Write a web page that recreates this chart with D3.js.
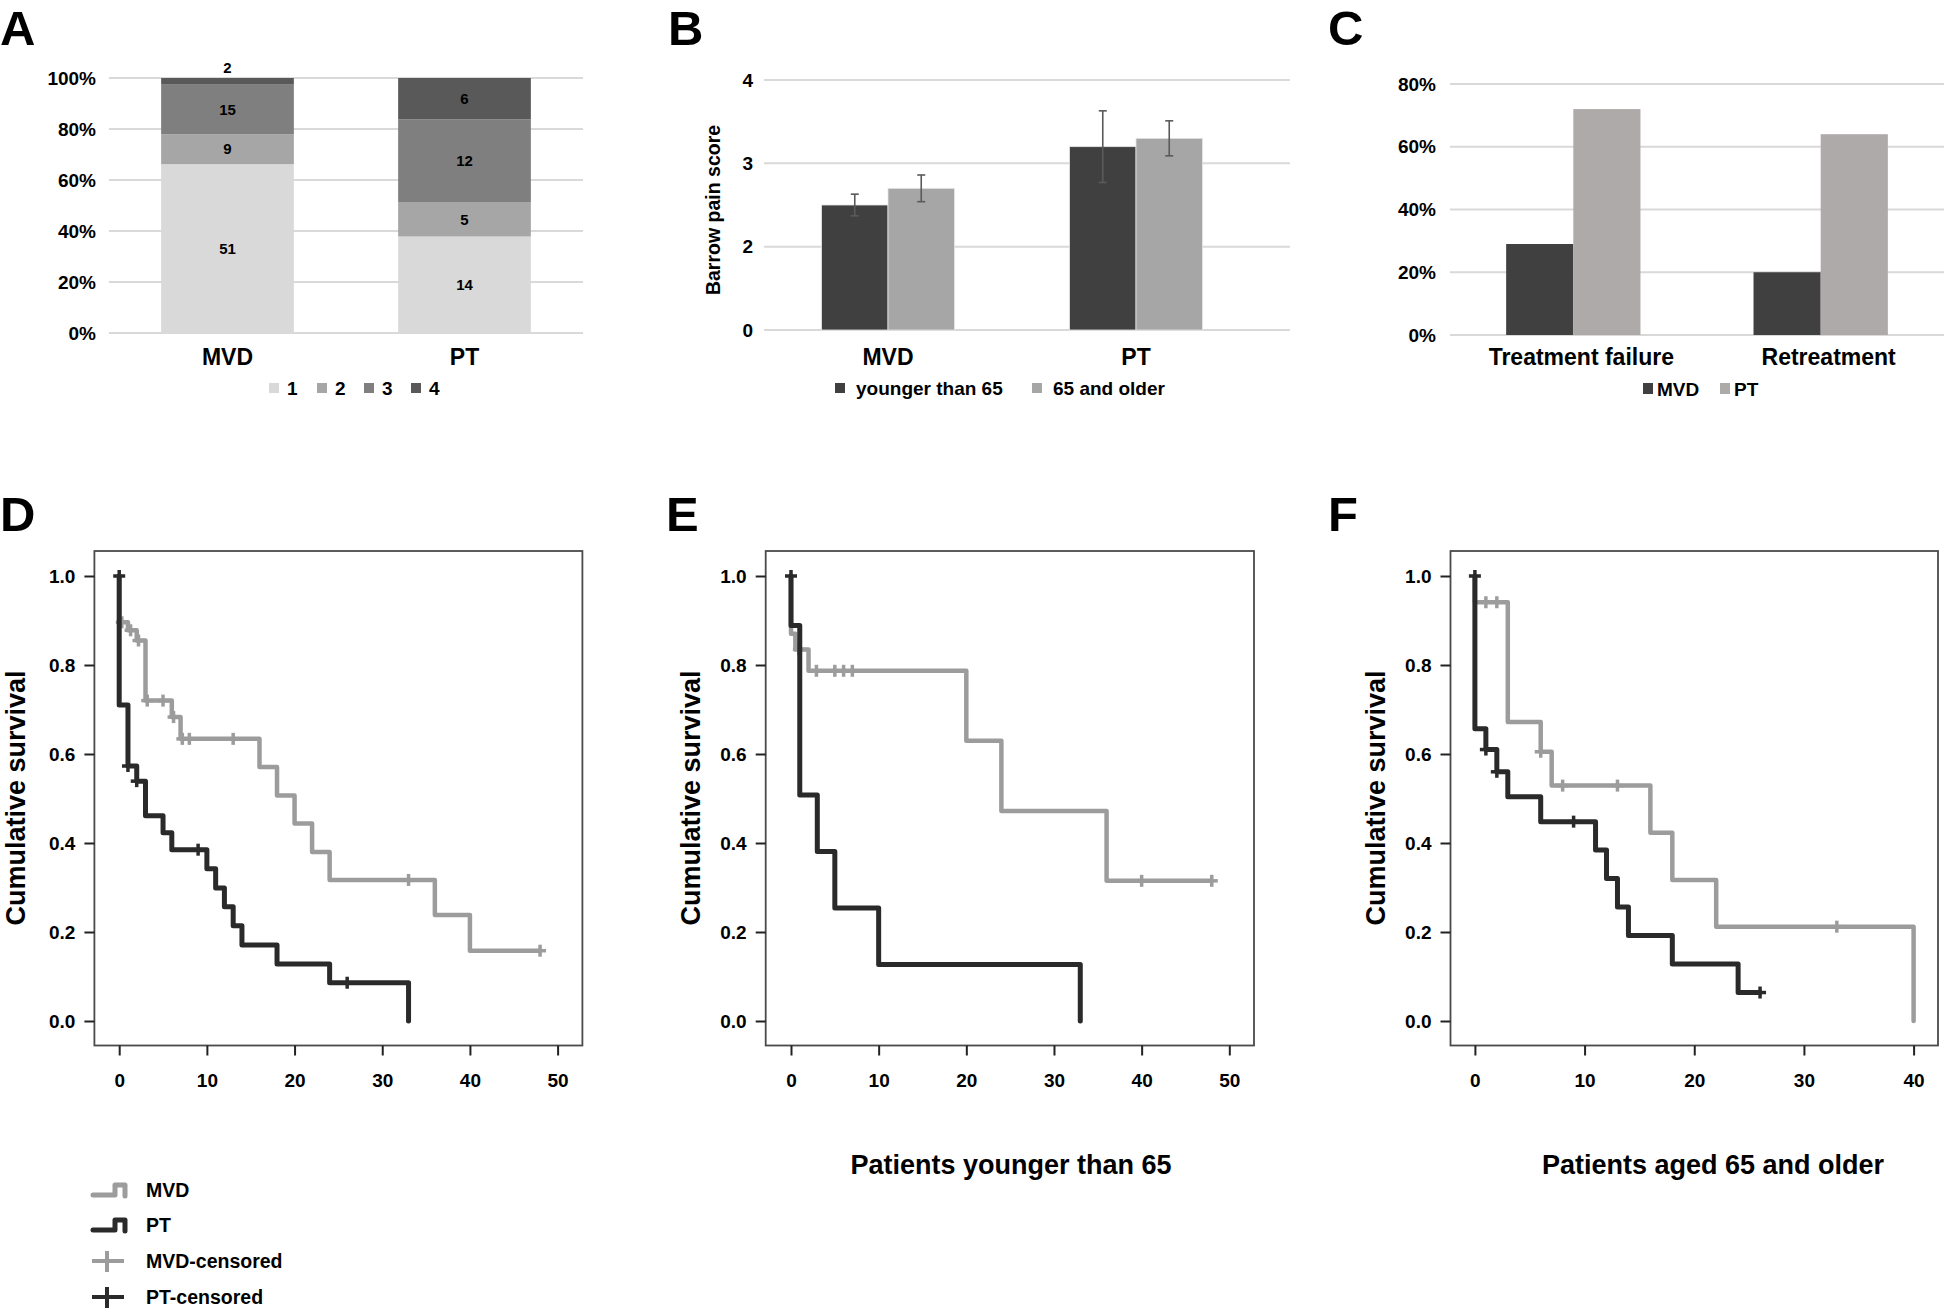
<!DOCTYPE html>
<html><head><meta charset="utf-8">
<script src="https://cdn.jsdelivr.net/npm/d3@7"></script>
<style>
body{margin:0;background:#fff}
svg{display:block}
text{font-family:"Liberation Sans",Arial,Helvetica,sans-serif;font-weight:bold;fill:#000}
</style>
</head><body>
<svg id="c" width="1946" height="1310"></svg>
<script>
// ---------------- DATA ----------------
// Panel A: Barrow pain score grade distribution (counts)
const gradeCategories = ["MVD", "PT"];
const gradeKeys = ["1", "2", "3", "4"];
const gradeCountsMVD = [51, 9, 15, 2];
const gradeCountsPT = [14, 5, 12, 6];
const percentTicksA = [0, 0.2, 0.4, 0.6, 0.8, 1];

// Panel B: mean Barrow pain score by age
const painGroups = ["MVD", "PT"];
const ageSeries = ["younger than 65", "65 and older"];
const painMeanMVD = [2.5, 2.7];
const painMeanPT = [3.2, 3.3];
const painErrMVD = [0.13, 0.16];
const painErrPT = [0.43, 0.21];
const painTickValues = [1, 2, 3, 4];
const painTickLabels = ["0", "2", "3", "4"];

// Panel C: treatment failure / retreatment rates
const outcomeCategories = ["Treatment failure", "Retreatment"];
const outcomeSeries = ["MVD", "PT"];
const outcomeMVD = [0.29, 0.20];
const outcomePT = [0.72, 0.64];
const percentTicksC = [0, 0.2, 0.4, 0.6, 0.8];

// Kaplan-Meier curves: [time, survival] after each step
const kmTicksY = [0, 0.2, 0.4, 0.6, 0.8, 1.0];
const kmD_MVD = [[0,1],[0,0.896],[1,0.878],[2,0.855],[3,0.72],[6,0.683],[7,0.634],[16,0.571],[18,0.507],[20,0.444],[22,0.380],[24,0.317],[36,0.238],[40,0.158],[48,0.158]];
const kmD_MVD_cens = [[0.3,0.896],[1.3,0.878],[2.2,0.855],[3.2,0.72],[5,0.72],[6.2,0.683],[7.2,0.634],[8,0.634],[13,0.634],[33,0.317],[48,0.158]];
const kmD_PT = [[0,1],[0,0.71],[1,0.573],[2,0.539],[3,0.461],[5,0.423],[6,0.385],[10,0.342],[11,0.299],[12,0.257],[13,0.214],[14,0.171],[18,0.128],[24,0.086],[33,0.086],[33,0]];
const kmD_PT_cens = [[0,1],[1,0.573],[2,0.539],[9,0.385],[26,0.086]];

const kmE_MVD = [[0,1],[0,0.87],[0.5,0.835],[2,0.787],[20,0.63],[24,0.472],[36,0.315],[48,0.315]];
const kmE_MVD_cens = [[0.9,0.835],[2.9,0.787],[5,0.787],[6,0.787],[7,0.787],[40,0.315],[48,0.315]];
const kmE_PT = [[0,1],[0,0.889],[1,0.508],[3,0.381],[5,0.254],[10,0.127],[33,0.127],[33,0]];
const kmE_PT_cens = [[0,1]];

const kmF_MVD = [[0,1],[0,0.941],[3,0.672],[6,0.605],[7,0.529],[16,0.423],[18,0.317],[22,0.212],[40,0.212],[40,0]];
const kmF_MVD_cens = [[1,0.941],[2,0.941],[6,0.605],[8,0.529],[13,0.529],[33,0.212]];
const kmF_PT = [[0,1],[0,0.657],[1,0.610],[2,0.560],[3,0.504],[6,0.448],[11,0.384],[12,0.320],[13,0.256],[14,0.192],[18,0.128],[24,0.064],[26,0.064]];
const kmF_PT_cens = [[0,1],[1,0.610],[2,0.560],[9,0.448],[26,0.064]];

const kmLegend = ["MVD", "PT", "MVD-censored", "PT-censored"];

// ---------------- DRAW ----------------
const svg = d3.select("#c");
svg.append("rect").attr("width",1946).attr("height",1310).attr("fill","#fff");

// panel letters
[["A",0,45],["B",668,45],["C",1328,45],["D",0,531],["E",666,531],["F",1328,531]].forEach(([t,x,y])=>{
  svg.append("text").attr("x",x).attr("y",y).attr("font-size",49).text(t);
});

const gridColor = "#d9d9d9";

// ===== Panel A =====
{
  const g = svg.append("g");
  const x = d3.scaleBand().domain(gradeCategories).range([109,583]).paddingInner(0.44).paddingOuter(0.22);
  const y = d3.scaleLinear().domain([0,1]).range([333,78]);
  const colors = d3.scaleOrdinal().domain(gradeKeys).range(["#d9d9d9","#a6a6a6","#7f7f7f","#595959"]);
  percentTicksA.forEach(t=>{
    g.append("line").attr("x1",109).attr("x2",583).attr("y1",y(t)).attr("y2",y(t)).attr("stroke",gridColor).attr("stroke-width",2);
    g.append("text").attr("x",96).attr("y",y(t)).attr("dy","0.35em").attr("text-anchor","end").attr("font-size",19).text(d3.format(".0%")(t));
  });
  const rows = [gradeCountsMVD, gradeCountsPT].map((c,i)=>{
    const tot = d3.sum(c); const r = {cat: gradeCategories[i]};
    gradeKeys.forEach((k,j)=>{ r[k] = c[j]/tot; r["n"+k] = c[j]; });
    return r;
  });
  const stack = d3.stack().keys(gradeKeys)(rows);
  stack.forEach(layer=>{
    layer.forEach(d=>{
      const top = y(d[1]), bot = y(d[0]);
      g.append("rect").attr("x",x(d.data.cat)).attr("width",x.bandwidth()).attr("y",top).attr("height",bot-top).attr("fill",colors(layer.key));
      const ly = (bot-top) < 14 ? top - 10 : (top+bot)/2;
      g.append("text").attr("x",x(d.data.cat)+x.bandwidth()/2).attr("y",ly).attr("dy","0.35em").attr("text-anchor","middle").attr("font-size",15).text(d.data["n"+layer.key]);
    });
  });
  gradeCategories.forEach(c=>{
    g.append("text").attr("x",x(c)+x.bandwidth()/2).attr("y",357).attr("dy","0.35em").attr("text-anchor","middle").attr("font-size",23).text(c);
  });
  const lx = [269,317,364,411];
  gradeKeys.forEach((k,i)=>{
    g.append("rect").attr("x",lx[i]).attr("y",383).attr("width",10).attr("height",10).attr("fill",colors(k));
    g.append("text").attr("x",lx[i]+18).attr("y",388).attr("dy","0.35em").attr("font-size",19).text(k);
  });
}

// ===== Panel B =====
{
  const g = svg.append("g");
  const x0 = d3.scaleBand().domain(painGroups).range([764,1260]).paddingInner(0.464).paddingOuter(0.232);
  const x1 = d3.scaleBand().domain(ageSeries).range([0,x0.bandwidth()]);
  const y = d3.scaleLinear().domain([1,4]).range([330,80]);
  const colors = d3.scaleOrdinal().domain(ageSeries).range(["#404040","#a6a6a6"]);
  painTickValues.forEach((t,i)=>{
    g.append("line").attr("x1",764).attr("x2",1290).attr("y1",y(t)).attr("y2",y(t)).attr("stroke",gridColor).attr("stroke-width",2);
    g.append("text").attr("x",753).attr("y",y(t)).attr("dy","0.35em").attr("text-anchor","end").attr("font-size",19).text(painTickLabels[i]);
  });
  const means = [painMeanMVD, painMeanPT], errs = [painErrMVD, painErrPT];
  painGroups.forEach((grp,gi)=>{
    ageSeries.forEach((s,si)=>{
      const v = means[gi][si], e = errs[gi][si];
      const bx = x0(grp)+x1(s);
      g.append("rect").attr("x",bx).attr("width",x1.bandwidth()).attr("y",y(v)).attr("height",y(1)-y(v)).attr("fill",colors(s)).attr("stroke","#e6e6e6").attr("stroke-width",0.8);
      const cx = bx + x1.bandwidth()/2;
      g.append("line").attr("x1",cx).attr("x2",cx).attr("y1",y(v+e)).attr("y2",y(v-e)).attr("stroke","#5a5a5a").attr("stroke-width",1.6);
      [v+e, v-e].forEach(t=>g.append("line").attr("x1",cx-4).attr("x2",cx+4).attr("y1",y(t)).attr("y2",y(t)).attr("stroke","#5a5a5a").attr("stroke-width",1.6));
    });
    g.append("text").attr("x",x0(grp)+x0.bandwidth()/2).attr("y",357).attr("dy","0.35em").attr("text-anchor","middle").attr("font-size",23).text(grp);
  });
  g.append("text").attr("transform","translate(713,210) rotate(-90)").attr("text-anchor","middle").attr("dy","0.35em").attr("font-size",19.5).text("Barrow pain score");
  const lx = [835,1032];
  ageSeries.forEach((s,i)=>{
    g.append("rect").attr("x",lx[i]).attr("y",383).attr("width",10).attr("height",10).attr("fill",colors(s));
    g.append("text").attr("x",lx[i]+21).attr("y",388).attr("dy","0.35em").attr("font-size",19).text(s);
  });
}

// ===== Panel C =====
{
  const g = svg.append("g");
  const x0 = d3.scaleBand().domain(outcomeCategories).range([1450,1944]).paddingInner(0.457).paddingOuter(0.227);
  const x1 = d3.scaleBand().domain(outcomeSeries).range([0,x0.bandwidth()]);
  const y = d3.scaleLinear().domain([0,0.8]).range([335,84]);
  const colors = d3.scaleOrdinal().domain(outcomeSeries).range(["#404040","#afaaaa"]);
  percentTicksC.forEach(t=>{
    g.append("line").attr("x1",1450).attr("x2",1944).attr("y1",y(t)).attr("y2",y(t)).attr("stroke",gridColor).attr("stroke-width",2);
    g.append("text").attr("x",1436).attr("y",y(t)).attr("dy","0.35em").attr("text-anchor","end").attr("font-size",19).text(d3.format(".0%")(t));
  });
  const vals = {MVD: outcomeMVD, PT: outcomePT};
  outcomeCategories.forEach((c,ci)=>{
    outcomeSeries.forEach(s=>{
      const v = vals[s][ci];
      g.append("rect").attr("x",x0(c)+x1(s)).attr("width",x1.bandwidth()).attr("y",y(v)).attr("height",y(0)-y(v)).attr("fill",colors(s));
    });
    g.append("text").attr("x",x0(c)+x0.bandwidth()/2+8).attr("y",357).attr("dy","0.35em").attr("text-anchor","middle").attr("font-size",23).text(c);
  });
  const lx = [1643,1720];
  outcomeSeries.forEach((s,i)=>{
    g.append("rect").attr("x",lx[i]).attr("y",383).attr("width",10).attr("height",11).attr("fill",colors(s));
    g.append("text").attr("x",lx[i]+14).attr("y",389).attr("dy","0.35em").attr("font-size",19).text(s);
  });
}

// ===== KM panels =====
const greyLine = "#9c9c9c", blackLine = "#2a2a2a";
function kmPanel(cfg){
  const g = svg.append("g");
  const x = d3.scaleLinear().domain(cfg.xDomain).range(cfg.xRange);
  const y = d3.scaleLinear().domain([0,1]).range([1021,576]);
  const top = 551, bot = 1045.5;
  g.append("rect").attr("x",cfg.boxL).attr("y",top).attr("width",cfg.boxR-cfg.boxL).attr("height",bot-top).attr("fill","none").attr("stroke","#4a4a4a").attr("stroke-width",1.8);
  const ax = g.append("g").attr("transform",`translate(0,${bot})`).call(d3.axisBottom(x).tickValues(cfg.xTicks).tickSize(10).tickFormat(d3.format("d")));
  ax.select(".domain").remove();
  ax.selectAll(".tick line").attr("stroke","#222").attr("stroke-width",2);
  ax.selectAll("text").attr("y",34.5).attr("dy","0.35em").attr("font-size",19).attr("font-family","Liberation Sans, Arial, sans-serif").attr("font-weight","bold").attr("fill","#000");
  const ay = g.append("g").attr("transform",`translate(${cfg.boxL},0)`).call(d3.axisLeft(y).tickValues(kmTicksY).tickSize(10).tickPadding(9).tickFormat(d3.format(".1f")));
  ay.select(".domain").remove();
  ay.selectAll(".tick line").attr("stroke","#222").attr("stroke-width",2);
  ay.selectAll("text").attr("font-size",19).attr("font-family","Liberation Sans, Arial, sans-serif").attr("font-weight","bold").attr("fill","#000");
  g.append("text").attr("transform",`translate(${cfg.yTitleX},798) rotate(-90)`).attr("text-anchor","middle").attr("dy","0.35em").attr("font-size",27).text("Cumulative survival");
  if (cfg.title) g.append("text").attr("x",cfg.titleX).attr("y",1165).attr("dy","0.35em").attr("text-anchor","middle").attr("font-size",27).text(cfg.title);
  const line = d3.line().x(d=>x(d[0])).y(d=>y(d[1])).curve(d3.curveStepAfter);
  const drawCurve = (data, cens, color, w) => {
    g.append("path").attr("d",line(data)).attr("fill","none").attr("stroke",color).attr("stroke-width",w).attr("stroke-linejoin","round").attr("stroke-linecap","round");
    cens.forEach(c=>{
      const cx = x(c[0]), cy = y(c[1]);
      g.append("line").attr("x1",cx).attr("x2",cx).attr("y1",cy-6).attr("y2",cy+6).attr("stroke",color).attr("stroke-width",3.5);
      g.append("line").attr("x1",cx-6).attr("x2",cx+6).attr("y1",cy).attr("y2",cy).attr("stroke",color).attr("stroke-width",3.5);
    });
  };
  drawCurve(cfg.mvd, cfg.mvdC, greyLine, 4.5);
  drawCurve(cfg.pt, cfg.ptC, blackLine, 5);
}
kmPanel({boxL:94.4, boxR:582.4, xDomain:[0,50], xRange:[119.2,557.6], xTicks:[0,10,20,30,40,50], yTitleX:16, mvd:kmD_MVD, mvdC:kmD_MVD_cens, pt:kmD_PT, ptC:kmD_PT_cens});
kmPanel({boxL:765.7, boxR:1254, xDomain:[0,50], xRange:[791,1229.3], xTicks:[0,10,20,30,40,50], yTitleX:691, title:"Patients younger than 65", titleX:1011, mvd:kmE_MVD, mvdC:kmE_MVD_cens, pt:kmE_PT, ptC:kmE_PT_cens});
kmPanel({boxL:1450.5, boxR:1938, xDomain:[0,40], xRange:[1474.9,1913.6], xTicks:[0,10,20,30,40], yTitleX:1376, title:"Patients aged 65 and older", titleX:1713, mvd:kmF_MVD, mvdC:kmF_MVD_cens, pt:kmF_PT, ptC:kmF_PT_cens});

// KM legend
{
  const g = svg.append("g");
  const ys = [1190, 1225, 1261, 1297];
  const cols = [greyLine, blackLine, greyLine, blackLine];
  kmLegend.forEach((lab,i)=>{
    const yc = ys[i];
    if (i < 2) {
      g.append("path").attr("d",`M93,${yc+5} H115 V${yc-5} H125 V${yc+6}`).attr("fill","none").attr("stroke",cols[i]).attr("stroke-width",5).attr("stroke-linejoin","round").attr("stroke-linecap","round");
    } else {
      g.append("line").attr("x1",92).attr("x2",124).attr("y1",yc).attr("y2",yc).attr("stroke",cols[i]).attr("stroke-width",4);
      g.append("line").attr("x1",107).attr("x2",107).attr("y1",yc-10).attr("y2",yc+11).attr("stroke",cols[i]).attr("stroke-width",4);
    }
    g.append("text").attr("x",146).attr("y",yc).attr("dy","0.35em").attr("font-size",19.5).text(lab);
  });
}
</script>
</body></html>
